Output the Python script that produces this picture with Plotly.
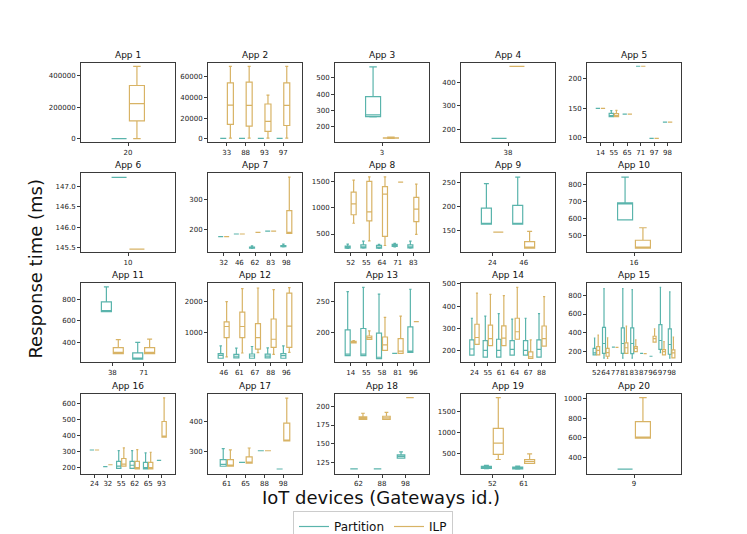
import plotly.graph_objects as go

# ---------------- data ----------------
TITLES = ["App 1", "App 2", "App 3", "App 4", "App 5",
          "App 6", "App 7", "App 8", "App 9", "App 10",
          "App 11", "App 12", "App 13", "App 14", "App 15",
          "App 16", "App 17", "App 18", "App 19", "App 20"]

GATEWAYS = [
    ["20"], ["33", "88", "93", "97"], ["3"], ["38"], ["14", "55", "65", "71", "97", "98"],
    ["10"], ["32", "46", "62", "83", "98"], ["52", "55", "64", "71", "83"], ["24", "46"], ["16"],
    ["38", "71"], ["46", "61", "67", "88", "96"], ["14", "55", "58", "81", "96"],
    ["24", "55", "61", "64", "67", "88"], ["52", "64", "77", "81", "83", "87", "96", "97", "98"],
    ["24", "32", "55", "62", "65", "93"], ["61", "65", "88", "98"], ["62", "88", "98"], ["52", "61"], ["9"],
]

# each box: [lower whisker, q1, median, q3, upper whisker]; a single number = all equal (flat box)
PARTITION = [
    [500],
    [300, 300, 300, 300],
    [[259, 261, 272, 384, 569]],
    [160.5],
    [149.4, [135.5, 135.5, 137, 141, 145.8], 139.7, 220.7, 98.9, 126.3],
    [147.22],
    [177, 185.7, [137, 138, 139, 142, 146], 195.6, [142, 143, 145, 147, 151.6]],
    [[230, 235, 250, 270, 310], [235, 240, 255, 295, 365], [230, 235, 245, 285, 305],
     [255, 265, 275, 305, 325], [235, 240, 255, 295, 365]],
    [[163, 163, 164, 196.6, 248], [163, 163, 164, 202.7, 261.6]],
    [[594, 594, 693, 694, 844]],
    [[685, 685, 690, 775, 912], [248, 248, 255, 306, 403]],
    [[168, 168, 263, 316, 568], [179, 179, 232, 295, 495], [168, 168, 240, 305, 547],
     [179, 179, 235, 300, 505], [168, 168, 250, 316, 568]],
    [[162.6, 162.6, 165, 204.2, 265.8], [162.6, 162.6, 165, 206.3, 272.6],
     [157.9, 157.9, 160, 198.9, 261.6], 166.3, [167.9, 167.9, 170, 209, 269.5]],
    [[178, 178, 206, 247, 345], [169, 169, 200, 244, 355], [169, 169, 200, 250, 366],
     [178, 178, 204, 244, 341], [178, 178, 200, 244, 345], [169, 169, 204, 247, 366]],
    [[158, 158, 180, 229, 341], [123, 176, 282, 455, 874], 242, [123, 176, 282, 451, 874],
     [123, 173, 282, 451, 863], 176, 144, [183, 219, 314, 486, 888], [123, 166, 271, 440, 839]],
    [310, 206, [196, 196, 210, 239, 306], [196, 196, 215, 239, 306], [192, 192, 200, 233, 292], 245],
    [[252, 252, 258, 274, 310], 264.5, 303, 243],
    [116.2, 116.2, [130.7, 130.7, 133, 135, 139]],
    [[145, 150, 170, 198, 221], [130, 136, 160, 182, 205]],
    [283],
]

ILP = [
    [[500, 114000, 223000, 339000, 461000]],
    [[500, 13800, 32700, 54250, 70300], [500, 12200, 32400, 54900, 70300],
     [500, 7060, 16700, 33700, 42400], [500, 12800, 32400, 54250, 70300]],
    [[126, 127, 128, 130, 134]],
    [467.6],
    [149.4, [135.5, 135.5, 137, 140.5, 146], 139.7, 220.7, 98.9, 126.3],
    [145.46],
    [177, 185.7, 191, 195.6, [188, 188, 190, 264, 377]],
    [[704, 864, 1068, 1290, 1519], [370, 747, 920, 1494, 1580], [284, 457, 1253, 1395, 1580],
     1481, [494, 735, 969, 1191, 1444]],
    [146.6, [113, 113, 114, 126.7, 148]],
    [[429, 429, 430, 475, 548]],
    [[300, 300, 310, 355, 427], [300, 300, 310, 355, 433]],
    [[210, 832, 1190, 1337, 1990], [337, 832, 1190, 1653, 2410], [347, 463, 832, 1284, 2430],
     [295, 516, 779, 1432, 2380], [358, 516, 1200, 2263, 2440]],
    [[183, 183, 184, 185.5, 187], [188.9, 188.9, 191.6, 194.2, 202.6], [171, 171, 180, 192.6, 224.2],
     [166.3, 166.3, 170, 190, 226.3], 217.4],
    [[227, 227, 258, 318, 459], [221, 221, 253, 314, 453], [221, 221, 255, 311, 447],
     [250, 250, 284, 345, 485], [163, 163, 170, 193, 247], [219, 219, 253, 310, 443]],
    [[158, 158, 208, 247, 373], [120, 144, 183, 229, 344], 239, [176, 176, 236, 289, 469],
     [193, 193, 229, 247, 320], 173, [296, 296, 335, 360, 441], [158, 158, 194, 215, 303],
     [127, 127, 180, 212, 352]],
    [310, 218, [210, 210, 222, 257, 324], [192, 192, 200, 239, 312], [192, 192, 200, 233, 296],
     [390, 390, 392, 488, 635]],
    [[252, 252, 256, 274, 306], [262, 262, 265, 283, 312], 303, [335, 335, 337, 394, 476]],
    [[182.5, 182.5, 184.2, 186, 190.8], [182.5, 182.5, 184.5, 186.8, 192], 211.8],
    [[360, 484, 748, 1097, 1826], [267, 267, 314, 360, 492]],
    [[597, 597, 600, 767, 1010]],
]

Y_TICK_LABELS = [
    ["0", "200000", "400000"], ["0", "20000", "40000", "60000"], ["200", "300", "400", "500"],
    ["200", "300", "400"], ["100", "150", "200"],
    ["145.5", "146.0", "146.5", "147.0"], ["200", "300"], ["500", "1000", "1500"],
    ["150", "200", "250"], ["500", "600", "700", "800"],
    ["400", "600", "800"], ["1000", "2000"], ["200", "250"], ["200", "300", "400", "500"],
    ["200", "400", "600", "800"],
    ["200", "300", "400", "500", "600"], ["300", "400"], ["125", "150", "175", "200"],
    ["500", "1000", "1500"], ["400", "600", "800", "1000"],
]

Y_LIMITS = [
    [-23000, 482000], [-3530, 73500], [102, 592], [143.7, 481.7], [92.2, 226],
    [145.38, 147.32], [124, 390], [154, 1648], [104.1, 269.9], [404, 867],
    [218, 945], [32, 2580], [151.6, 279], [145, 503], [77, 931],
    [163, 657], [228, 488], [110, 216], [27, 1903], [237, 1043],
]

SERIES = ["Partition", "ILP"]
COLORS = ["#5ab4ac", "#d8b365"]

# ---------------- layout geometry ----------------
W, H = 747, 534
COL_X = [73, 200, 327, 453, 579]
ROW_Y = [53, 165, 277, 390]
PW, PH = 94, 80.5
FONT = "DejaVu Sans"
AXC = "#3a3a3a"

fig = go.Figure()
layout = {}
annotations = []


def expand(s):
    return s if isinstance(s, list) else [s, s, s, s, s]


for k in range(20):
    r, c = divmod(k, 5)
    sfx = "" if k == 0 else str(k + 1)
    gws = GATEWAYS[k]
    for name, data, color in zip(SERIES, [PARTITION[k], ILP[k]], COLORS):
        st = [expand(s) for s in data]
        fig.add_trace(go.Box(
            x=gws,
            lowerfence=[s[0] for s in st], q1=[s[1] for s in st], median=[s[2] for s in st],
            q3=[s[3] for s in st], upperfence=[s[4] for s in st],
            name=name, offsetgroup=name, xaxis="x" + sfx, yaxis="y" + sfx,
            line=dict(color=color, width=1.2), fillcolor="rgba(0,0,0,0)",
            whiskerwidth=0.5, boxpoints=False, showlegend=False, hoverinfo="skip",
        ))
    x0 = COL_X[c] / W
    x1 = (COL_X[c] + PW) / W
    y1 = 1 - ROW_Y[r] / H
    y0 = 1 - (ROW_Y[r] + PH) / H
    layout["xaxis" + sfx] = dict(
        domain=[x0, x1], anchor="y" + sfx, type="category",
        range=[-1, len(gws)], tickmode="array", tickvals=gws, ticktext=gws, tickangle=0,
        showline=True, mirror=True, linecolor=AXC, linewidth=1,
        ticks="outside", ticklen=3, tickcolor=AXC, showgrid=False, zeroline=False,
        tickfont=dict(family=FONT, size=7, color="#222"),
    )
    labels = Y_TICK_LABELS[k]
    layout["yaxis" + sfx] = dict(
        domain=[y0, y1], anchor="x" + sfx, range=Y_LIMITS[k],
        tickmode="array", tickvals=[float(t) for t in labels], ticktext=labels,
        showline=True, mirror=True, linecolor=AXC, linewidth=1,
        ticks="outside", ticklen=3, tickcolor=AXC, showgrid=False, zeroline=False,
        tickfont=dict(family=FONT, size=7, color="#222"),
    )
    annotations.append(dict(
        text=TITLES[k], x=(x0 + x1) / 2, y=y1, xref="paper", yref="paper",
        xanchor="center", yanchor="bottom", yshift=1, showarrow=False,
        font=dict(family=FONT, size=9, color="#111"),
    ))

annotations.append(dict(
    text="Response time (ms)", x=28 / W, y=1 - 262 / H, xref="paper", yref="paper",
    xanchor="center", yanchor="middle", textangle=-90, showarrow=False,
    font=dict(family=FONT, size=18, color="#111"),
))
annotations.append(dict(
    text="IoT devices (Gateways id.)", x=373 / W, y=1 - 495 / H, xref="paper", yref="paper",
    xanchor="center", yanchor="middle", showarrow=False,
    font=dict(family=FONT, size=18, color="#111"),
))

for name, color in zip(SERIES, COLORS):
    fig.add_trace(go.Scatter(x=[None], y=[None], mode="lines", name=name,
                             line=dict(color=color, width=1.2), xaxis="x", yaxis="y"))

fig.update_layout(
    **layout,
    annotations=annotations,
    width=W, height=H, autosize=False,
    margin=dict(l=0, r=0, t=0, b=0),
    paper_bgcolor="white", plot_bgcolor="white",
    boxmode="group", boxgap=0.24, boxgroupgap=0.16,
    showlegend=True,
    legend=dict(orientation="h", x=365 / W, xanchor="center", y=1 - 509 / H, yanchor="top",
                bordercolor="#cccccc", borderwidth=1, bgcolor="white",
                font=dict(family=FONT, size=12, color="#111"),
                itemwidth=30, tracegroupgap=0),
    font=dict(family=FONT),
)

fig.write_html("out.html")
